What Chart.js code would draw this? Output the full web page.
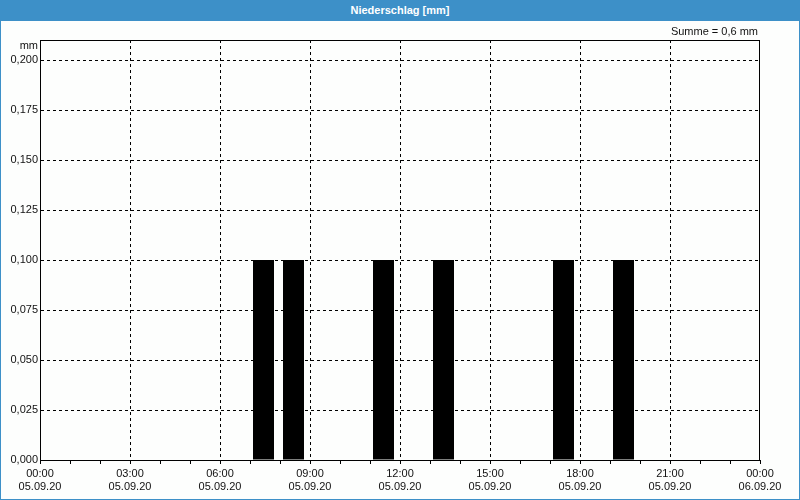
<!DOCTYPE html>
<html>
<head>
<meta charset="utf-8">
<script src="https://cdn.jsdelivr.net/npm/chart.js@4/dist/chart.umd.min.js"></script>
<style>
  body { margin: 0; background: #fff; }
  #cadre {
    width: 800px; height: 500px; box-sizing: border-box;
    border: 1px solid #3d90c8; border-top: none; background: #fdfefd;
  }
  #entete {
    height: 21px; margin: 0 -1px; background: #3d90c8; color: #fff;
    font: bold 11px "Liberation Sans", Arial, sans-serif;
    text-align: center; line-height: 20px;
  }
  #zone { width: 798px; height: 478px; }
</style>
</head>
<body>
<div id="cadre">
  <div id="entete">Niederschlag [mm]</div>
  <div id="zone"><canvas id="niederschlag" width="798" height="478"></canvas></div>
</div>
<script>
// Stunden (Beginn des Intervalls) mit Niederschlag und Menge in mm
const stunden = [7, 8, 11, 13, 17, 19];
const mengen = [0.1, 0.1, 0.1, 0.1, 0.1, 0.1];
const zeitLabels = ['00:00', '03:00', '06:00', '09:00', '12:00', '15:00', '18:00', '21:00', '00:00'];
const datumLabels = ['05.09.20', '05.09.20', '05.09.20', '05.09.20', '05.09.20', '05.09.20', '05.09.20', '05.09.20', '06.09.20'];
const summeText = 'Summe = 0,6 mm';
const einheit = 'mm';

const schrift = { family: '"Liberation Sans", Arial, sans-serif', size: 11 };

// Balken in der Mitte des Stundenintervalls
const punkte = stunden.map((h, i) => ({ x: h + 0.45, y: mengen[i] }));

// Rahmen + Texte oben
const rahmenPlugin = {
  id: 'rahmen',
  afterDraw(chart) {
    const { ctx, chartArea: a } = chart;
    const top = Math.round(a.top);
    ctx.save();
    ctx.strokeStyle = '#000';
    ctx.lineWidth = 1;
    ctx.setLineDash([]);
    ctx.strokeRect(a.left + 0.5, top + 0.5, a.right - a.left - 1, Math.round(a.bottom) - top);
    ctx.fillStyle = '#111';
    ctx.font = '11px "Liberation Sans", Arial, sans-serif';
    ctx.textBaseline = 'middle';
    ctx.textAlign = 'right';
    ctx.fillText(summeText, a.right - 2, 11);
    ctx.fillText(einheit, a.left - 2, 25);
    ctx.restore();
  }
};

new Chart(document.getElementById('niederschlag'), {
  type: 'bar',
  data: {
    datasets: [{
      data: punkte,
      backgroundColor: '#000',
      borderWidth: 0,
      inflateAmount: 0,
      barThickness: 21
    }]
  },
  options: {
    responsive: false,
    animation: false,
    events: [],
    // kleiner Versatz, damit die Gitterlinien auf der Balkenkante landen
    layout: { padding: { top: 19.01, right: 39, left: 0, bottom: 0 } },
    plugins: {
      legend: { display: false },
      tooltip: { enabled: false }
    },
    scales: {
      x: {
        type: 'linear',
        min: 0,
        max: 24,
        offset: false,
        afterFit(scale) { scale.height = 39; },
        ticks: {
          stepSize: 1,
          autoSkip: false,
          maxRotation: 0,
          color: '#111',
          font: schrift,
          padding: 3,
          callback: v => v % 3 === 0 ? [zeitLabels[v / 3], datumLabels[v / 3]] : ''
        },
        grid: {
          offset: false,
          color: c => (c.tick && c.tick.value % 3 === 0 && c.tick.value > 0 && c.tick.value < 24) ? '#000' : 'rgba(0,0,0,0)',
          tickColor: '#000',
          tickLength: 4,
          tickBorderDash: []
        },
        border: { display: true, color: '#000', dash: [3, 3] }
      },
      y: {
        min: 0,
        max: 0.21,
        afterFit(scale) { scale.width = 39; },
        afterBuildTicks(scale) {
          scale.ticks = [0, 0.025, 0.05, 0.075, 0.1, 0.125, 0.15, 0.175, 0.2].map(v => ({ value: v }));
        },
        ticks: {
          color: '#111',
          font: schrift,
          padding: 2,
          callback: v => v.toFixed(3).replace('.', ',')
        },
        grid: {
          color: c => (c.tick && c.tick.value > 0) ? '#000' : 'rgba(0,0,0,0)',
          drawTicks: false
        },
        border: { display: true, color: '#000', dash: [3, 3] }
      }
    }
  },
  plugins: [rahmenPlugin]
});
</script>
</body>
</html>
